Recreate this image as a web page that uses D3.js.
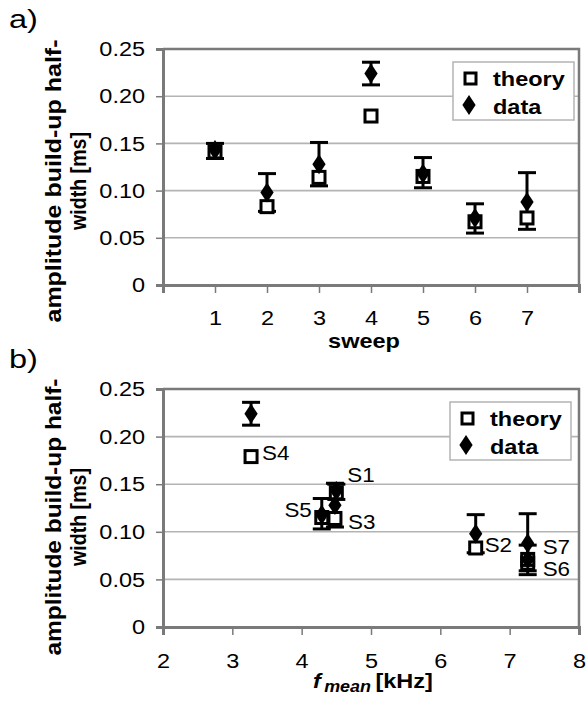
<!DOCTYPE html>
<html>
<head>
<meta charset="utf-8">
<script src="https://cdn.jsdelivr.net/npm/d3@7"></script>
<style>
  html, body { margin: 0; padding: 0; background: #fff; }
  svg { display: block; }
  text { font-family: "Liberation Sans", Arial, sans-serif; fill: #000; }
</style>
</head>
<body>
<svg id="chart" width="587" height="702"></svg>
<script>
// ---- data ----
const sweeps     = [1, 2, 3, 4, 5, 6, 7];
const sweepNames = ["S1", "S2", "S3", "S4", "S5", "S6", "S7"];
const fMean      = [4.50, 6.51, 4.48, 3.27, 4.29, 7.26, 7.26];
const theory     = [0.141, 0.083, 0.114, 0.179, 0.115, 0.067, 0.071];
const dataVals   = [0.143, 0.098, 0.128, 0.224, 0.118, 0.071, 0.088];
const errPlus    = [0.007, 0.020, 0.023, 0.012, 0.017, 0.015, 0.031];
const errMinus   = [0.009, 0.020, 0.023, 0.012, 0.015, 0.016, 0.029];
const yTicks     = [0, 0.05, 0.10, 0.15, 0.20, 0.25];
const xTicksA    = [0, 1, 2, 3, 4, 5, 6, 7, 8];
const xTickLabelsA = ["", "1", "2", "3", "4", "5", "6", "7", ""];
const xTicksB    = [2, 3, 4, 5, 6, 7, 8];
const legendLabels = ["theory", "data"];

const svg = d3.select("#chart");
const AXIS = "#7a7a7a", GRID = "#b4b4b4";
const SX = 1.12; // horizontal text stretch seen in the reference

function yFmt(v) { return v === 0 ? "0" : v.toFixed(2); }

function txt(g, x, y, s, size, opts = {}) {
  const t = g.append("text")
    .attr("transform", `translate(${x},${y}) scale(${opts.sx || SX},1)`)
    .attr("font-size", size)
    .attr("text-anchor", opts.anchor || "start");
  if (opts.bold) t.attr("font-weight", "bold");
  if (s !== null) t.text(s);
  return t;
}

function panel(cfg) {
  const g = svg.append("g");
  const x = d3.scaleLinear().domain(cfg.xDomain).range([163, 579]);
  const y = d3.scaleLinear().domain([0, 0.25]).range([cfg.bottom, cfg.top]);

  // gridlines
  g.selectAll(".grid").data(yTicks.filter(d => d > 0)).join("line")
    .attr("x1", x.range()[0]).attr("x2", x.range()[1])
    .attr("y1", d => y(d)).attr("y2", d => y(d))
    .attr("stroke", GRID).attr("stroke-width", 1.6);

  // frame (top / right)
  g.append("path")
    .attr("d", `M${x.range()[0]},${y(0.25)}H${x.range()[1]}V${y(0)}`)
    .attr("fill", "none").attr("stroke", AXIS).attr("stroke-width", 2.5);

  // y axis
  const yAxis = d3.axisLeft(y).tickValues(yTicks).tickFormat(yFmt).tickSize(7).tickPadding(9);
  const ya = g.append("g").attr("transform", `translate(${x.range()[0]},0)`).call(yAxis);
  ya.select(".domain").attr("stroke", AXIS).attr("stroke-width", 3);
  ya.selectAll(".tick line").attr("stroke", AXIS).attr("stroke-width", 1.5);
  ya.selectAll(".tick text").attr("font-size", 21).attr("font-family", "Liberation Sans, Arial, sans-serif")
    .attr("fill", "#000").attr("transform", `scale(${SX},1)`);

  // x axis
  const xAxis = d3.axisBottom(x).tickValues(cfg.xTicks)
    .tickFormat((d, i) => cfg.xTickLabels ? cfg.xTickLabels[i] : String(d))
    .tickSize(8).tickPadding(cfg.xTickPad);
  const xa = g.append("g").attr("transform", `translate(0,${y(0)})`).call(xAxis);
  xa.select(".domain").attr("stroke", AXIS).attr("stroke-width", 3);
  xa.selectAll(".tick line").attr("stroke", AXIS).attr("stroke-width", 1.5);
  xa.selectAll(".tick text").attr("font-size", 21).attr("font-family", "Liberation Sans, Arial, sans-serif")
    .attr("fill", "#000").attr("transform", `scale(${SX},1)`);

  const xs = cfg.xVals;

  // error bars (data)
  const eb = g.append("g").attr("stroke", "#000").attr("stroke-width", 3);
  sweeps.forEach((s, i) => {
    const cx = x(xs[i]);
    const top = y(dataVals[i] + errPlus[i]), bot = y(dataVals[i] - errMinus[i]);
    eb.append("line").attr("x1", cx).attr("x2", cx).attr("y1", top).attr("y2", bot);
    eb.append("line").attr("x1", cx - 9).attr("x2", cx + 9).attr("y1", top).attr("y2", top);
    eb.append("line").attr("x1", cx - 9).attr("x2", cx + 9).attr("y1", bot).attr("y2", bot);
  });

  // theory squares
  g.selectAll(".th").data(sweeps).join("rect")
    .attr("x", (d, i) => x(xs[i]) - 6).attr("y", (d, i) => y(theory[i]) - 6)
    .attr("width", 12).attr("height", 12)
    .attr("fill", "#fff").attr("stroke", "#000").attr("stroke-width", 3);

  // data diamonds
  const diamond = d3.symbol().type(d3.symbolDiamond).size(115);
  g.selectAll(".dd").data(sweeps).join("path")
    .attr("d", diamond)
    .attr("transform", (d, i) => `translate(${x(xs[i])},${y(dataVals[i])}) scale(1.15,1)`)
    .attr("fill", "#000");

  // legend
  const L = cfg.legend;
  g.append("rect").attr("x", L.x).attr("y", L.y).attr("width", L.w).attr("height", L.h)
    .attr("fill", "#fff").attr("stroke", GRID).attr("stroke-width", 1.5);
  g.append("rect").attr("x", L.x + 12).attr("y", L.y + 11).attr("width", 11).attr("height", 11)
    .attr("fill", "#fff").attr("stroke", "#000").attr("stroke-width", 3);
  g.append("path").attr("d", diamond)
    .attr("transform", `translate(${L.x + 16},${L.y + 43}) scale(1.15,1)`).attr("fill", "#000");
  legendLabels.forEach((t, i) => {
    txt(g, L.x + 40, L.y + 24 + i * 28, t, 21, { bold: true });
  });

  // y-axis title (two lines)
  g.append("text")
    .attr("transform", `translate(${61},${cfg.labelCY}) rotate(-90)`)
    .attr("text-anchor", "middle").attr("font-size", 22).attr("font-weight", "bold")
    .attr("textLength", cfg.l1).attr("lengthAdjust", "spacingAndGlyphs")
    .text("amplitude build-up half-");
  g.append("text")
    .attr("transform", `translate(${86},${cfg.labelCY}) rotate(-90)`)
    .attr("text-anchor", "middle").attr("font-size", 22).attr("font-weight", "bold")
    .attr("textLength", 98).attr("lengthAdjust", "spacingAndGlyphs")
    .text("width [ms]");

  // panel letter
  txt(g, 9, cfg.letterY, cfg.letter, 26, { sx: 1.25 });

  return { g, x, y };
}

// ---- panel a ----
const pa = panel({
  xDomain: [0, 8], top: 49, bottom: 285, xTicks: xTicksA, xTickLabels: xTickLabelsA, xTickPad: 17,
  xVals: sweeps, legend: { x: 453, y: 62, w: 121, h: 58 }, labelCY: 181, l1: 283,
  letter: "a)", letterY: 28
});
txt(pa.g, 364, 348, "sweep", 21, { bold: true, anchor: "middle" });

// ---- panel b ----
const pb = panel({
  xDomain: [2, 8], top: 389, bottom: 627, xTicks: xTicksB, xTickLabels: null, xTickPad: 18,
  xVals: fMean, legend: { x: 450, y: 402, w: 121, h: 58 }, labelCY: 517, l1: 277,
  letter: "b)", letterY: 368
});
const xt = txt(pb.g, 313, 688, null, 21, { bold: true });
xt.append("tspan").attr("font-style", "italic").text("f");
xt.append("tspan").attr("font-style", "italic").attr("font-size", 16).attr("dx", 3).attr("dy", 4).text("mean");
xt.append("tspan").attr("dy", -4).attr("dx", 4).text("[kHz]");

// sweep labels in panel b (offsets relative to the plotted point)
const labelPos = {
  S1: { ref: "d", dx: 11, dy: -9, anchor: "start" },
  S2: { ref: "t", dx: 9,  dy: 4,  anchor: "start" },
  S3: { ref: "t", dx: 13, dy: 11, anchor: "start" },
  S4: { ref: "t", dx: 11, dy: 3,  anchor: "start" },
  S5: { ref: "d", dx: -10, dy: 2, anchor: "end" },
  S6: { ref: "t", dx: 15, dy: 13, anchor: "start" },
  S7: { ref: "d", dx: 15, dy: 11, anchor: "start" }
};
sweepNames.forEach((n, i) => {
  const p = labelPos[n];
  const yv = p.ref === "d" ? dataVals[i] : theory[i];
  txt(pb.g, pb.x(fMean[i]) + p.dx, pb.y(yv) + p.dy, n, 20, { anchor: p.anchor });
});
</script>
</body>
</html>
